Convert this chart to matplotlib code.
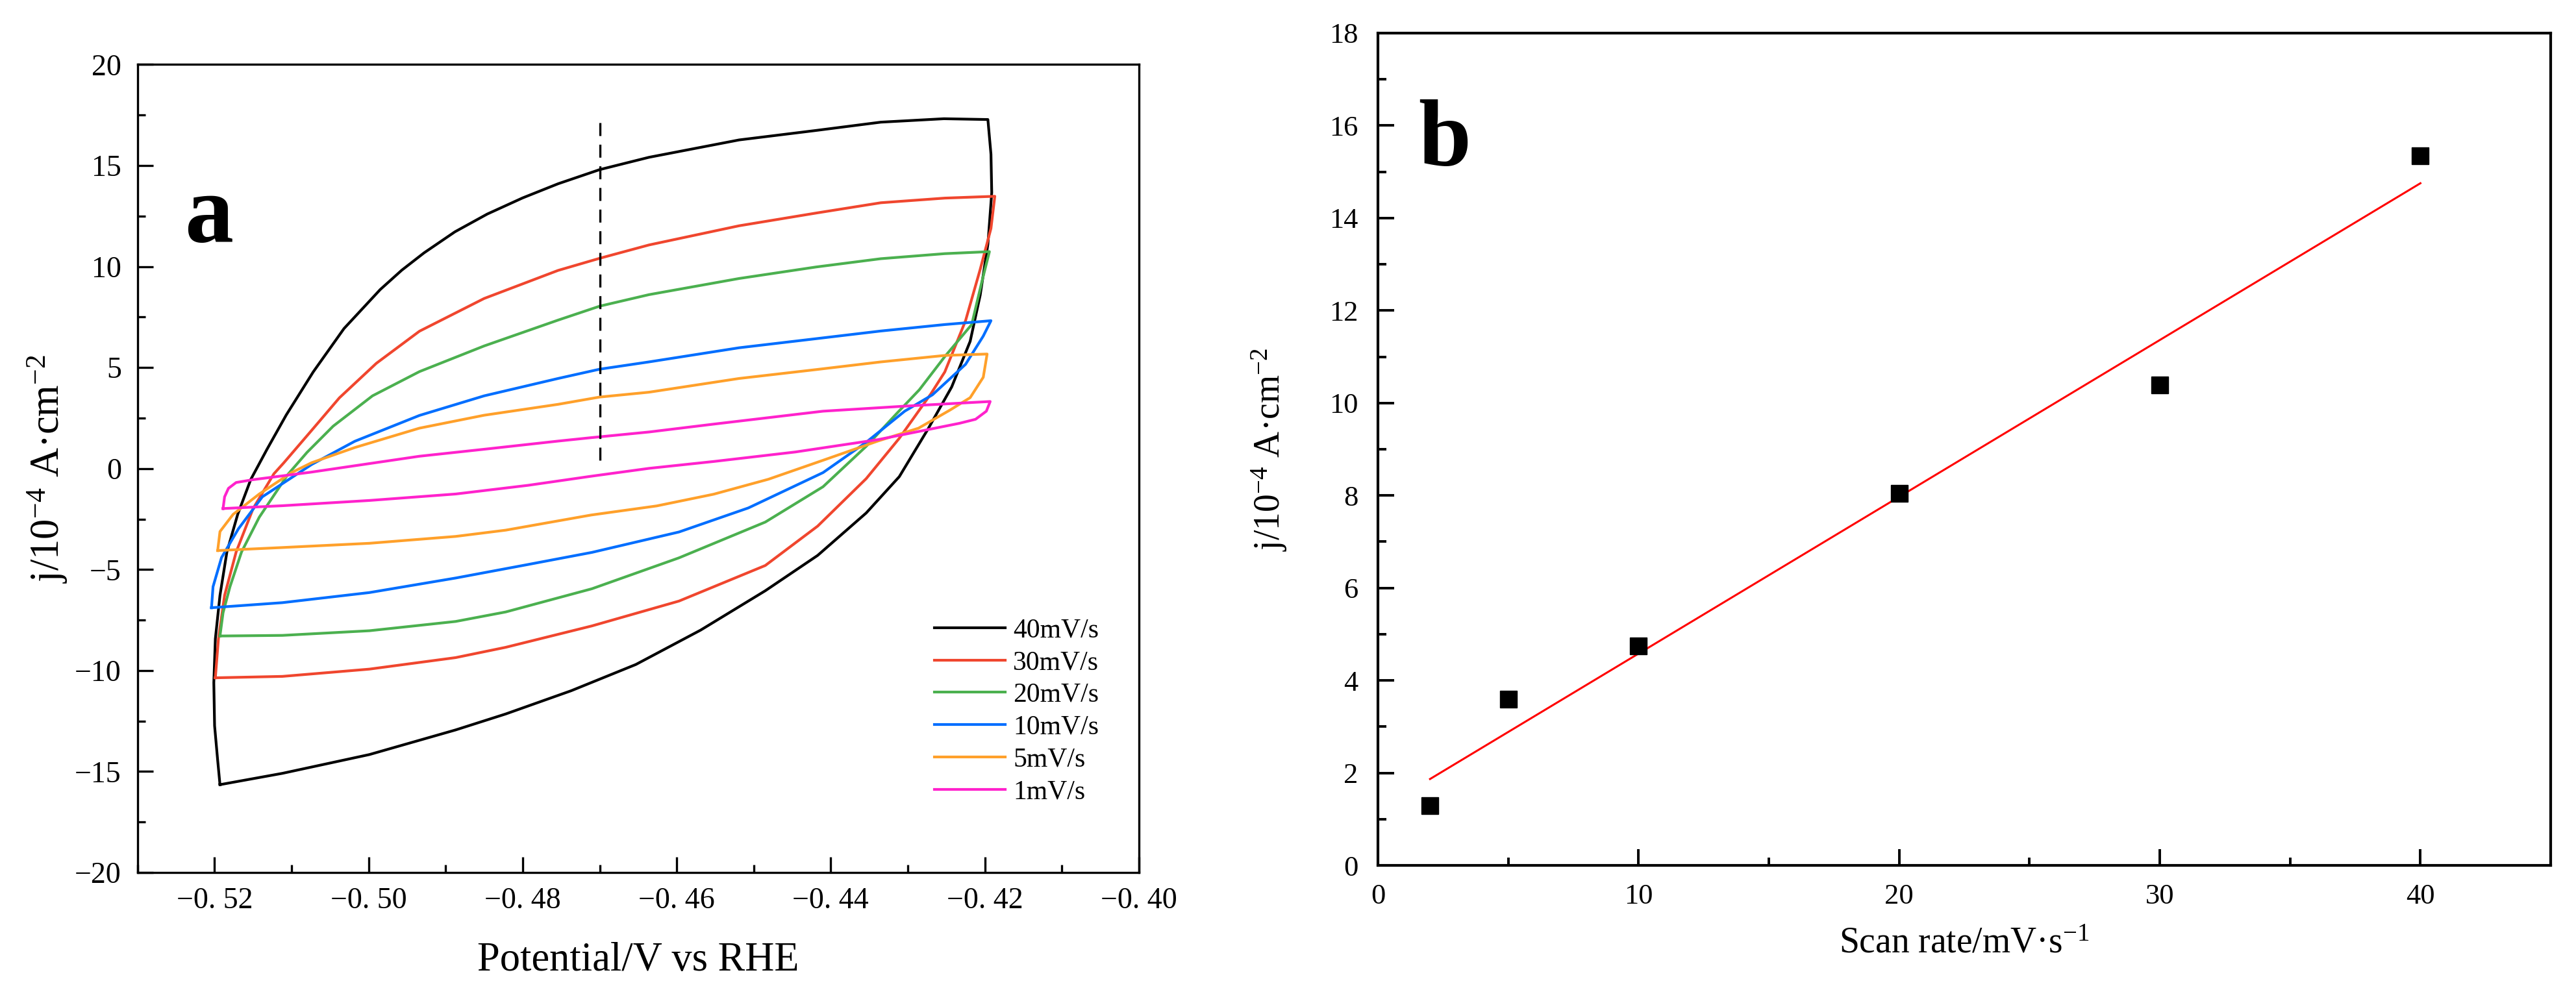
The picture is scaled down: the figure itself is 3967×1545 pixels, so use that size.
import matplotlib
matplotlib.use("Agg")
import matplotlib.pyplot as plt
import numpy as np
from matplotlib.ticker import MultipleLocator

# ---- panel a: CV loops (potential / V vs RHE, current / 1e-4 A cm^-2) ----
x40 = [-0.5193, -0.5112, -0.4999, -0.4887, -0.4822, -0.4737, -0.4653, -0.4569, -0.4485, -0.4417,
       -0.4354, -0.4311, -0.4274, -0.4243, -0.4219, -0.4206, -0.4196, -0.4191, -0.4192, -0.4196,
       -0.4253, -0.4335, -0.4419, -0.4519, -0.4636, -0.4700, -0.4754, -0.4800, -0.4846, -0.4888,
       -0.4928, -0.4957, -0.4985, -0.5032, -0.5072, -0.5107, -0.5132, -0.5153, -0.5170, -0.5184,
       -0.5193, -0.5199, -0.5201, -0.5200, -0.5196, -0.5193]
y40 = [-15.65, -15.09, -14.16, -12.94, -12.15, -11.00, -9.70, -8.00, -6.05, -4.30,
       -2.20, -0.40, 1.94, 4.04, 6.30, 8.58, 11.10, 13.66, 15.56, 17.28,
       17.32, 17.15, 16.74, 16.27, 15.41, 14.80, 14.10, 13.40, 12.60, 11.72,
       10.68, 9.82, 8.86, 6.93, 4.78, 2.65, 0.95, -0.54, -2.27, -4.13,
       -6.28, -8.43, -10.60, -12.73, -14.44, -15.65]

x30 = [-0.5199, -0.5112, -0.4999, -0.4887, -0.4822, -0.4710, -0.4597, -0.4485, -0.4417, -0.4354,
       -0.4311, -0.4270, -0.4252, -0.4225, -0.4206, -0.4192, -0.4187, -0.4252, -0.4335, -0.4419,
       -0.4519, -0.4636, -0.4700, -0.4754, -0.4850, -0.4934, -0.4990, -0.5038, -0.5074, -0.5110,
       -0.5123, -0.5150, -0.5172, -0.5187, -0.5195, -0.5199]
y30 = [-10.36, -10.29, -9.93, -9.36, -8.85, -7.79, -6.56, -4.80, -2.85, -0.50,
       1.50, 3.70, 4.78, 7.32, 9.86, 11.89, 13.48, 13.39, 13.16, 12.65,
       12.02, 11.07, 10.41, 9.81, 8.42, 6.80, 5.21, 3.50, 1.89, 0.29,
       -0.26, -1.98, -4.13, -6.28, -8.43, -10.36]

x20 = [-0.5193, -0.5112, -0.4999, -0.4887, -0.4822, -0.4710, -0.4597, -0.4485, -0.4410, -0.4354,
       -0.4315, -0.4285, -0.4252, -0.4217, -0.4204, -0.4194, -0.4252, -0.4335, -0.4419, -0.4519,
       -0.4636, -0.4700, -0.4754, -0.4850, -0.4934, -0.4995, -0.5046, -0.5080, -0.5105, -0.5142,
       -0.5165, -0.5180, -0.5189, -0.5193]
y20 = [-8.29, -8.26, -8.03, -7.57, -7.10, -5.95, -4.42, -2.65, -0.90, 1.10,
       2.70, 3.90, 5.54, 7.13, 9.22, 10.74, 10.64, 10.39, 9.98, 9.41,
       8.61, 8.04, 7.35, 6.07, 4.80, 3.60, 2.10, 0.80, -0.30, -2.41,
       -4.13, -5.85, -7.14, -8.29]

x10 = [-0.5204, -0.5112, -0.4999, -0.4887, -0.4793, -0.4710, -0.4597, -0.4507, -0.4410, -0.4354,
       -0.4304, -0.4268, -0.4225, -0.4202, -0.4192, -0.4252, -0.4335, -0.4419, -0.4519, -0.4636,
       -0.4700, -0.4754, -0.4850, -0.4934, -0.5018, -0.5074, -0.5138, -0.5169, -0.5191, -0.5202,
       -0.5204]
y10 = [-6.89, -6.64, -6.14, -5.42, -4.75, -4.15, -3.14, -1.95, -0.20, 1.30,
       2.84, 3.65, 5.16, 6.56, 7.32, 7.13, 6.81, 6.43, 5.98, 5.28,
       4.92, 4.46, 3.60, 2.63, 1.35, 0.20, -1.40, -2.98, -4.41, -5.85,
       -6.89]

x5 = [-0.5196, -0.5112, -0.4999, -0.4887, -0.4822, -0.4711, -0.4626, -0.4552, -0.4481, -0.4410,
      -0.4339, -0.4286, -0.4245, -0.4219, -0.4202, -0.4197, -0.4252, -0.4335, -0.4419, -0.4519,
      -0.4636, -0.4700, -0.4754, -0.4850, -0.4934, -0.5018, -0.5074, -0.5100, -0.5142, -0.5176,
      -0.5193, -0.5196]
y5 = [-4.06, -3.91, -3.70, -3.36, -3.05, -2.30, -1.85, -1.27, -0.53, 0.41,
      1.36, 2.00, 2.90, 3.51, 4.52, 5.67, 5.60, 5.28, 4.90, 4.46,
      3.78, 3.54, 3.18, 2.64, 2.00, 1.04, 0.29, -0.20, -1.26, -2.27,
      -3.12, -4.06]

x1 = [-0.5189, -0.5112, -0.4999, -0.4887, -0.4793, -0.4711, -0.4636, -0.4552, -0.4446, -0.4339,
      -0.4233, -0.4212, -0.4198, -0.4193, -0.4304, -0.4410, -0.4552, -0.4636, -0.4711, -0.4754,
      -0.4849, -0.4934, -0.5075, -0.5150, -0.5172, -0.5182, -0.5187, -0.5189]
y1 = [-1.98, -1.84, -1.58, -1.26, -0.83, -0.38, 0.01, 0.35, 0.82, 1.43,
      2.24, 2.44, 2.84, 3.32, 3.09, 2.84, 2.20, 1.81, 1.53, 1.36,
      0.96, 0.61, -0.18, -0.55, -0.69, -0.98, -1.40, -1.98]

cv_labels = ["40mV/s", "30mV/s", "20mV/s", "10mV/s", "5mV/s", "1mV/s"]
cv_colors = ["#000000", "#F0462E", "#4BB04F", "#006EFF", "#FFA02A", "#FF22CC"]

dash_x = [-0.47, -0.47]
dash_y = [0.4, 17.2]

xticks_a = [-0.52, -0.50, -0.48, -0.46, -0.44, -0.42, -0.40]
xtick_labels_a = ["\u22120. 52", "\u22120. 50", "\u22120. 48", "\u22120. 46", "\u22120. 44", "\u22120. 42", "\u22120. 40"]
yticks_a = [-20, -15, -10, -5, 0, 5, 10, 15, 20]
ytick_labels_a = ["\u221220", "\u221215", "\u221210", "\u22125", "0", "5", "10", "15", "20"]

# ---- panel b: current vs scan rate ----
scan_rate = [2, 5, 10, 20, 30, 40]
current = [1.29, 3.60, 4.75, 8.05, 10.39, 15.34]

plt.rcParams["font.family"] = ["Liberation Serif", "DejaVu Serif"]
plt.rcParams["mathtext.fontset"] = "custom"
plt.rcParams["mathtext.rm"] = "Liberation Serif"
plt.rcParams["mathtext.it"] = "Liberation Serif:italic"
plt.rcParams["mathtext.bf"] = "Liberation Serif:bold"

fig = plt.figure(figsize=(39.67, 15.45), dpi=100)

# panel a
ax1 = fig.add_axes([0.0534, 0.1301, 0.3887, 0.8055])
for xs, ys, lab, col in zip([x40, x30, x20, x10, x5, x1], [y40, y30, y20, y10, y5, y1],
                            cv_labels, cv_colors):
    ax1.plot(xs, ys, color=col, lw=3.0, label=lab, solid_joinstyle="round")
ax1.plot(dash_x, dash_y, color="black", lw=2.4, ls=(0, (6, 4)))

ax1.set_xlim(-0.53, -0.40)
ax1.set_ylim(-20, 20)
ax1.set_xticks(xticks_a)
ax1.set_xticklabels(xtick_labels_a)
ax1.set_yticks(yticks_a)
ax1.set_yticklabels(ytick_labels_a)
ax1.xaxis.set_minor_locator(MultipleLocator(0.01))
ax1.yaxis.set_minor_locator(MultipleLocator(2.5))
ax1.tick_params(which="both", direction="in", top=False, right=False, width=2.4, labelsize=33)
ax1.tick_params(which="major", length=17)
ax1.tick_params(which="minor", length=8.5)
ax1.tick_params(axis="x", pad=16)
ax1.tick_params(axis="y", pad=18)
for sp in ax1.spines.values():
    sp.set_linewidth(2.4)

ax1.set_xlabel("Potential/V vs RHE", fontsize=45)
ax1.set_ylabel("j/10$^{-4}$ A\u00b7cm$^{-2}$", fontsize=45)
ax1.xaxis.set_label_coords(0.5, -0.086)
ax1.yaxis.set_label_coords(-0.068, 0.5)
ax1.text(0.0713, 0.781, "a", transform=ax1.transAxes, fontsize=108, fontweight="bold",
         ha="center", va="baseline")

ax1.legend(frameon=False, loc="upper left", bbox_to_anchor=(0.796, 0.315), fontsize=30,
           handlelength=2.6, handletextpad=0.3, labelspacing=0.27, borderpad=0, borderaxespad=0)

# panel b
ax2 = fig.add_axes([0.5349, 0.1372, 0.4553, 0.8298])
slope, intercept = np.polyfit(scan_rate, current, 1)
fit_x = np.array([scan_rate[0], scan_rate[-1]])
ax2.plot(fit_x, slope * fit_x + intercept, color="#FF0000", lw=2.2)
ax2.plot(scan_rate, current, ls="none", marker="s", color="black", markersize=19)

ax2.set_xlim(0, 45)
ax2.set_ylim(0, 18)
ax2.xaxis.set_major_locator(MultipleLocator(10))
ax2.xaxis.set_minor_locator(MultipleLocator(5))
ax2.yaxis.set_major_locator(MultipleLocator(2))
ax2.yaxis.set_minor_locator(MultipleLocator(1))
ax2.tick_params(which="both", direction="in", top=False, right=False, width=2.8, labelsize=32)
ax2.tick_params(which="major", length=18)
ax2.tick_params(which="minor", length=9)
ax2.tick_params(axis="x", pad=20)
ax2.tick_params(axis="y", pad=22)
for sp in ax2.spines.values():
    sp.set_linewidth(3.0)

ax2.set_xlabel("Scan rate/mV\u00b7s$^{-1}$", fontsize=40)
ax2.set_ylabel("j/10$^{-4}$ A\u00b7cm$^{-2}$", fontsize=40)
ax2.xaxis.set_label_coords(0.5, -0.074)
ax2.yaxis.set_label_coords(-0.076, 0.5)
ax2.text(0.057, 0.841, "b", transform=ax2.transAxes, fontsize=105, fontweight="bold",
         ha="center", va="baseline")

fig.savefig("out.png", dpi=100)
